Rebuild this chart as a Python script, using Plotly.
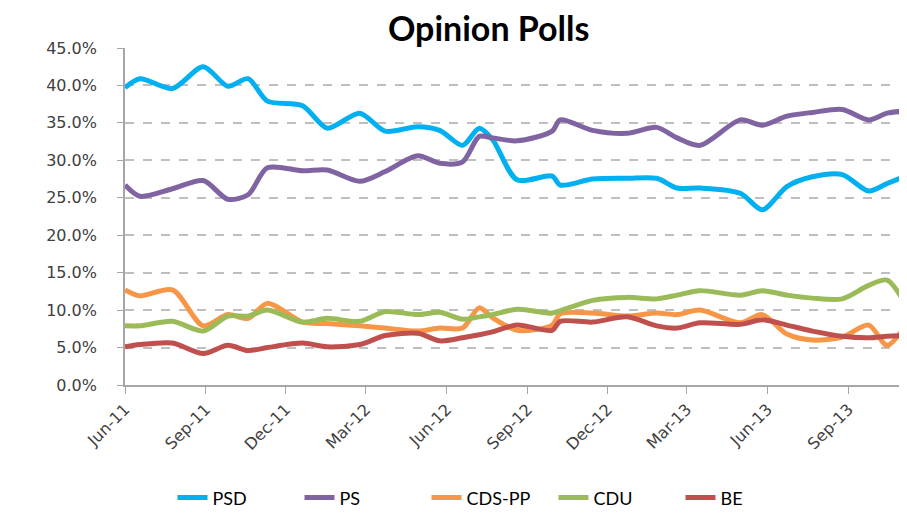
import plotly.graph_objects as go

dates = ["2011-06-01", "2011-06-18", "2011-07-25", "2011-08-29", "2011-09-26", "2011-10-19",
         "2011-11-10", "2011-12-20", "2012-01-17", "2012-02-23", "2012-03-23", "2012-04-29",
         "2012-05-24", "2012-06-19", "2012-07-08", "2012-07-23", "2012-08-20", "2012-09-29",
         "2012-10-08", "2012-11-14", "2012-12-23", "2013-01-26", "2013-02-18", "2013-03-16",
         "2013-05-01", "2013-05-26", "2013-06-23", "2013-07-22", "2013-08-25", "2013-09-24",
         "2013-10-15", "2013-11-09"]

psd = [39.7, 40.9, 39.6, 42.5, 39.9, 40.9, 37.9, 37.3, 34.3, 36.3, 33.9, 34.5,
       34.0, 32.0, 34.3, 32.8, 27.4, 27.9, 26.7, 27.5, 27.6, 27.6, 26.3, 26.3,
       25.6, 23.4, 26.5, 27.8, 28.1, 25.9, 26.9, 28.1]
ps = [26.7, 25.2, 26.2, 27.3, 24.8, 25.4, 29.0, 28.6, 28.7, 27.2, 28.5, 30.6,
      29.6, 29.8, 33.2, 33.0, 32.6, 33.9, 35.4, 34.0, 33.6, 34.4, 33.0, 32.0,
      35.4, 34.7, 35.9, 36.4, 36.8, 35.4, 36.3, 36.6]
cds = [12.7, 11.9, 12.7, 7.9, 9.4, 8.9, 10.9, 8.4, 8.2, 7.9, 7.6, 7.2,
       7.6, 7.6, 10.3, 9.0, 7.3, 8.0, 9.5, 9.6, 9.2, 9.6, 9.4, 10.0,
       8.3, 9.4, 6.8, 6.0, 6.4, 8.0, 5.3, 8.7]
cdu = [7.9, 7.9, 8.5, 7.2, 9.2, 9.2, 10.0, 8.4, 8.9, 8.5, 9.8, 9.4,
       9.7, 8.8, 9.1, 9.4, 10.1, 9.6, 9.9, 11.3, 11.7, 11.5, 12.0, 12.6,
       12.0, 12.6, 12.0, 11.6, 11.5, 13.3, 14.0, 9.9]
be = [5.1, 5.4, 5.6, 4.2, 5.3, 4.6, 5.0, 5.6, 5.1, 5.4, 6.6, 6.9,
      5.9, 6.3, 6.7, 7.1, 8.0, 7.3, 8.5, 8.4, 9.1, 7.9, 7.6, 8.3,
      8.1, 8.7, 8.0, 7.2, 6.5, 6.3, 6.5, 6.6]

series_names = ["PSD", "PS", "CDS-PP", "CDU", "BE"]
series_values = [psd, ps, cds, cdu, be]
colors = ["#00B0F0", "#8064A2", "#F79646", "#9BBB59", "#C0504D"]

fig = go.Figure()
for name, vals, col in zip(series_names, series_values, colors):
    fig.add_trace(go.Scatter(x=dates, y=vals, name=name, mode="lines",
                             line=dict(color=col, width=5, shape="spline", smoothing=0.8)))

# empty helper trace so that the label-only overlay axis is drawn
fig.add_trace(go.Scatter(x=[dates[0]], y=[None], yaxis="y2", mode="lines",
                         showlegend=False, hoverinfo="skip"))

W, H = 907, 516
ML, MR = 60, 5
plot_w = W - ML - MR

fig.update_layout(
    width=W, height=H,
    margin=dict(l=ML, r=MR, t=40, b=139, autoexpand=False),
    paper_bgcolor="white", plot_bgcolor="white",
    title=dict(text="<b>Opinion Polls</b>", x=0.53, xref="container", xanchor="center",
               y=1 - 21 / H, yref="container", yanchor="middle",
               font=dict(family="Lato", size=34, color="black")),
    font=dict(family="DejaVu Sans", color="#404040"),
    legend=dict(orientation="h", x=(482 - ML) / plot_w, xanchor="center", y=-0.335,
                yanchor="middle",
                font=dict(family="Lato", size=18, color="black"),
                entrywidth=82, entrywidthmode="pixels"),
    showlegend=True,
)

fig.update_layout(
    xaxis=dict(
        domain=[(117 - ML) / plot_w, 1],
        type="date", range=["2011-06-01", "2013-11-10"],
        tick0="2011-06-01", dtick="M3", tickformat="%b-%y", tickangle=-45,
        showgrid=False, showline=True, linecolor="#A6A6A6", linewidth=1.5,
        ticks="outside", ticklen=7, tickcolor="#A6A6A6",
        tickfont=dict(family="DejaVu Sans", size=16, color="#404040"),
        zeroline=False, automargin=False,
    ),
    yaxis=dict(
        range=[0, 45], dtick=5, showticklabels=False,
        showgrid=True, gridcolor="#BFBFBF", griddash="dash", gridwidth=1.5,
        showline=True, linecolor="#A6A6A6", linewidth=1.5,
        ticks="outside", ticklen=6, tickcolor="#A6A6A6",
        zeroline=False, automargin=False,
    ),
    yaxis2=dict(
        overlaying="y", anchor="free", position=(89 - ML) / plot_w, side="left",
        range=[0, 45], dtick=5, tickformat=".1f", ticksuffix="%",
        showgrid=False, showline=False, ticks="", zeroline=False, automargin=False,
        tickfont=dict(family="DejaVu Sans", size=16, color="#404040"),
    ),
)

fig.write_html("out.html")
